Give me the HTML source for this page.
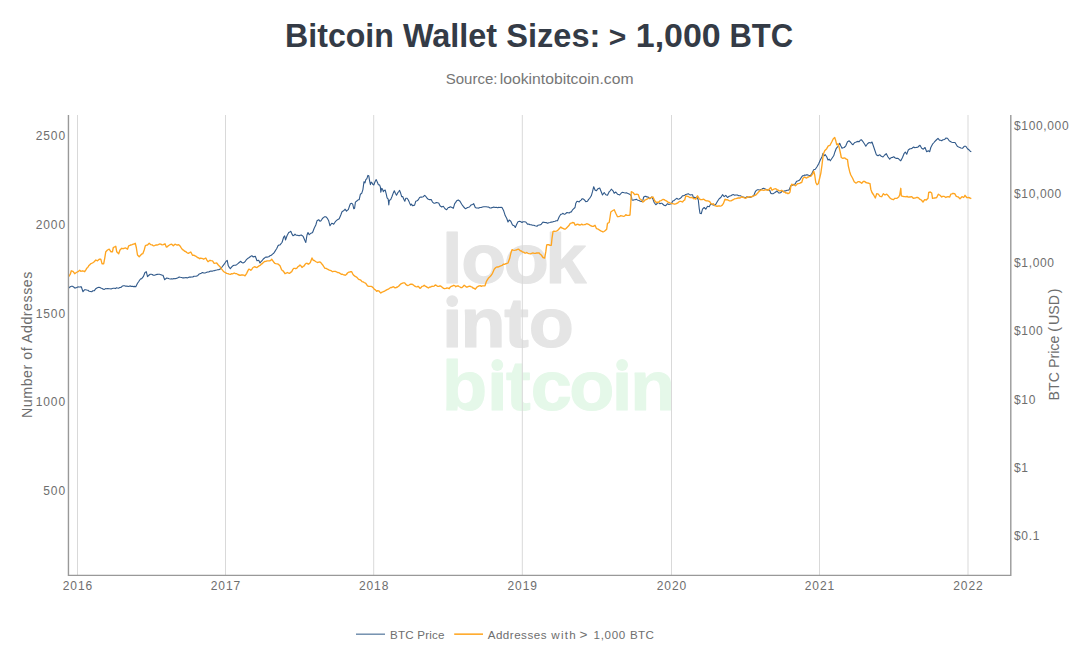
<!DOCTYPE html>
<html><head><meta charset="utf-8"><title>Bitcoin Wallet Sizes</title>
<style>
html,body{margin:0;padding:0;background:#fff;}
body{width:1080px;height:648px;overflow:hidden;font-family:"Liberation Sans",sans-serif;}
svg{display:block;}
text{font-family:"Liberation Sans",sans-serif;}
.tick{font-size:12px;letter-spacing:0.9px;fill:#6e6e6e;}
.axt{font-size:14.2px;letter-spacing:0.55px;fill:#6e6e6e;}
.leg{font-size:11.6px;letter-spacing:0.2px;fill:#6e6e6e;}
.wm{font-weight:bold;font-size:71px;}
</style></head><body>
<svg width="1080" height="648" viewBox="0 0 1080 648">
<rect width="1080" height="648" fill="#fff"/>
<g id="title" font-size="33px" font-weight="bold" fill="#343b46"><text transform="translate(285.11,46.75) scale(0.9730,1)">Bitcoin</text><text transform="translate(402.90,46.75) scale(0.9822,1)">Wallet</text><text transform="translate(506.31,46.75) scale(0.9863,1)">Sizes:</text><text x="608.64" y="46.7" font-size="30px">&gt;</text><text transform="translate(635.74,46.75) scale(1.0297,1)">1,000</text><text transform="translate(729.49,46.75) scale(0.9395,1)">BTC</text></g>
<g id="sub" font-size="15.3px" fill="#767676"><text transform="translate(445.66,84.1) scale(0.9822,1)">Source:</text><text transform="translate(499.67,84.1) scale(1.0289,1)">lookintobitcoin.com</text></g>
<g id="wm" class="wm" stroke-width="1.2" stroke-linejoin="round">
<text transform="translate(442.00,283.45) scale(1.04,1)" fill="#e5e5e5" stroke="#e5e5e5">l</text><text transform="translate(461.35,283.45) scale(1.04,1)" fill="#e5e5e5" stroke="#e5e5e5">o</text><text transform="translate(503.75,283.45) scale(1.04,1)" fill="#e5e5e5" stroke="#e5e5e5">o</text><text transform="translate(545.20,283.45) scale(1.04,1)" fill="#e5e5e5" stroke="#e5e5e5">k</text>
<text transform="translate(442.00,346.75) scale(1.04,1)" fill="#e5e5e5" stroke="#e5e5e5">ı</text><text transform="translate(460.45,346.75) scale(1.04,1)" fill="#e5e5e5" stroke="#e5e5e5">n</text><text transform="translate(504.35,346.75) scale(1.04,1)" fill="#e5e5e5" stroke="#e5e5e5">t</text><text transform="translate(528.75,346.75) scale(1.04,1)" fill="#e5e5e5" stroke="#e5e5e5">o</text>
<text transform="translate(441.95,410.20) scale(1.04,1)" fill="#e5f8e9" stroke="#e5f8e9">b</text><text transform="translate(487.05,410.20) scale(1.04,1)" fill="#e5f8e9" stroke="#e5f8e9">ı</text><text transform="translate(505.95,410.20) scale(1.04,1)" fill="#e5f8e9" stroke="#e5f8e9">t</text><text transform="translate(530.65,410.20) scale(1.04,1)" fill="#e5f8e9" stroke="#e5f8e9">c</text><text transform="translate(569.35,410.20) scale(1.04,1)" fill="#e5f8e9" stroke="#e5f8e9">o</text><text transform="translate(611.70,410.20) scale(1.04,1)" fill="#e5f8e9" stroke="#e5f8e9">ı</text><text transform="translate(630.15,410.20) scale(1.04,1)" fill="#e5f8e9" stroke="#e5f8e9">n</text>
<circle cx="452.2" cy="301.1" r="5.9" fill="#e5e5e5" stroke="none"/><circle cx="497.3" cy="365.0" r="5.9" fill="#e5f8e9" stroke="none"/><circle cx="622.1" cy="365.0" r="5.9" fill="#e5f8e9" stroke="none"/>
</g>
<g id="grid" stroke="#d9d9d9" stroke-width="1" >
<line x1="77.5" y1="115" x2="77.5" y2="575"/>
<line x1="225.5" y1="115" x2="225.5" y2="575"/>
<line x1="373.7" y1="115" x2="373.7" y2="575"/>
<line x1="522.3" y1="115" x2="522.3" y2="575"/>
<line x1="671.5" y1="115" x2="671.5" y2="575"/>
<line x1="819.5" y1="115" x2="819.5" y2="575"/>
<line x1="968.0" y1="115" x2="968.0" y2="575"/>
</g>
<path id="blue" d="M68.7,288.0 L70.3,286.7 L71.4,286.3 L72.5,286.3 L73.6,286.9 L74.7,288.0 L75.7,287.9 L76.7,287.5 L77.9,286.9 L79.2,287.0 L80.2,286.9 L81.3,286.7 L83.0,291.7 L84.7,289.7 L85.7,289.7 L86.7,290.0 L87.9,290.3 L89.2,291.3 L90.4,291.5 L91.7,291.7 L92.9,290.8 L94.2,290.8 L95.8,288.7 L96.9,288.0 L98.0,287.5 L98.9,287.3 L99.9,287.5 L100.8,288.0 L102.1,288.5 L103.3,289.2 L104.4,289.4 L105.6,288.6 L106.7,288.8 L107.8,288.5 L108.9,288.8 L110.0,288.7 L111.1,289.0 L112.2,288.5 L113.3,288.3 L114.4,288.2 L115.4,288.6 L116.5,287.7 L117.5,288.0 L118.6,288.2 L119.7,287.5 L120.8,287.5 L122.1,286.3 L123.3,285.8 L124.6,285.7 L125.8,286.3 L126.9,286.1 L128.1,286.5 L129.2,286.2 L130.3,285.9 L131.4,286.4 L132.5,286.3 L133.6,286.6 L134.7,286.4 L135.8,286.7 L137.5,283.3 L138.6,281.7 L139.7,280.0 L140.7,278.9 L141.7,278.7 L143.3,276.7 L145.0,272.5 L146.3,271.7 L147.5,276.7 L149.2,275.0 L150.2,274.2 L151.3,274.2 L152.3,274.5 L153.3,275.3 L154.6,275.2 L155.8,274.7 L157.1,274.4 L158.3,274.2 L159.6,274.3 L160.8,274.7 L161.9,275.1 L163.0,275.3 L164.7,279.7 L165.7,278.8 L166.7,278.0 L167.9,278.2 L169.2,278.7 L170.4,279.0 L171.7,278.8 L172.8,279.0 L173.9,278.5 L175.0,278.7 L176.2,278.4 L177.5,278.0 L179.2,277.0 L180.4,277.3 L181.7,277.5 L182.8,277.9 L183.9,277.9 L185.0,277.8 L186.1,277.5 L187.2,278.0 L188.3,277.5 L189.4,277.0 L190.6,277.1 L191.7,277.0 L192.8,277.0 L193.9,276.2 L195.0,276.3 L196.2,276.1 L197.5,275.8 L198.8,274.3 L200.0,273.7 L201.2,273.2 L202.5,272.5 L203.8,273.0 L205.0,273.0 L206.2,272.6 L207.5,272.0 L208.8,272.0 L210.0,271.3 L211.1,271.0 L212.2,271.2 L213.3,270.8 L214.4,270.6 L215.6,270.3 L216.7,270.0 L217.7,269.7 L218.7,269.8 L219.7,269.2 L220.7,268.7 L221.7,267.5 L222.9,265.8 L224.2,264.2 L225.8,261.7 L227.2,260.3 L228.3,265.8 L229.3,267.4 L230.3,268.7 L232.0,266.7 L233.1,265.6 L234.2,265.3 L235.4,265.2 L236.7,264.7 L237.9,263.7 L239.2,262.5 L240.8,261.3 L241.9,262.6 L243.0,263.0 L244.0,262.6 L245.0,261.7 L246.0,260.2 L247.0,259.2 L248.1,258.2 L249.2,257.5 L250.2,256.8 L251.3,255.8 L252.3,256.0 L253.3,257.0 L254.3,256.6 L255.3,256.3 L257.0,260.8 L258.7,260.3 L260.0,263.0 L261.0,261.6 L262.0,260.8 L263.1,259.2 L264.2,258.3 L265.2,257.3 L266.3,257.0 L267.5,257.1 L268.7,256.7 L270.0,255.7 L271.3,255.3 L272.5,254.1 L273.7,253.3 L274.8,251.6 L275.8,250.0 L276.9,248.2 L278.0,245.8 L279.0,245.0 L280.0,245.0 L281.0,243.7 L282.0,242.5 L283.7,237.0 L284.7,235.8 L285.5,240.0 L287.0,235.8 L288.7,232.5 L289.8,232.0 L290.8,231.3 L291.9,233.9 L293.0,235.8 L294.0,235.3 L295.0,234.2 L296.0,235.1 L297.0,235.3 L298.1,235.4 L299.2,235.8 L300.2,235.3 L301.3,235.0 L302.3,235.7 L303.3,236.7 L305.0,240.8 L305.8,242.5 L307.0,235.0 L308.0,232.5 L309.2,234.7 L310.8,233.3 L311.8,233.0 L312.8,232.0 L314.2,228.3 L315.8,225.0 L317.0,220.8 L318.7,219.7 L320.0,221.3 L321.0,220.7 L322.0,219.2 L323.3,217.6 L324.7,216.7 L325.7,216.8 L326.7,217.5 L327.7,218.9 L328.7,220.8 L330.0,225.8 L331.7,223.3 L332.7,223.5 L333.7,224.2 L335.3,221.7 L336.4,220.7 L337.5,219.7 L339.2,218.7 L340.8,215.0 L342.0,211.7 L343.1,211.1 L344.2,210.3 L345.0,209.2 L346.5,211.2 L347.4,210.2 L348.3,209.6 L349.6,205.8 L350.4,203.8 L351.7,203.3 L352.7,204.2 L353.8,208.8 L354.6,208.3 L355.4,202.1 L357.1,200.8 L358.1,199.8 L359.2,199.6 L360.4,194.2 L361.7,193.3 L362.9,189.6 L364.0,181.7 L365.0,182.9 L365.8,179.6 L366.8,178.8 L367.9,175.4 L368.8,175.8 L369.6,180.8 L370.4,184.6 L371.2,182.1 L372.1,182.9 L372.9,184.6 L373.8,185.0 L375.0,181.7 L376.2,179.6 L377.5,182.5 L378.3,184.6 L379.6,185.0 L380.4,187.1 L380.8,192.1 L381.7,188.3 L382.5,189.2 L383.3,191.7 L384.2,190.4 L385.2,190.0 L386.2,193.8 L387.1,197.9 L388.2,199.2 L388.8,205.0 L389.3,200.4 L390.7,199.6 L392.1,196.2 L393.3,192.9 L394.3,190.8 L395.4,193.3 L396.5,195.2 L397.7,192.9 L398.8,191.5 L399.6,190.4 L400.7,193.3 L401.7,196.7 L402.7,196.5 L403.8,199.2 L404.8,201.2 L405.8,198.3 L407.1,198.2 L408.3,200.0 L409.6,202.9 L410.7,205.2 L411.5,204.2 L412.7,205.8 L413.6,205.4 L414.6,205.2 L415.8,201.2 L417.1,200.7 L418.3,199.8 L419.6,197.5 L420.8,197.1 L422.1,197.1 L423.3,196.7 L424.6,195.4 L425.7,196.2 L427.1,198.3 L428.3,199.2 L429.6,199.6 L431.2,199.6 L432.5,202.1 L433.8,203.2 L434.8,203.3 L435.8,202.8 L436.7,202.5 L437.7,202.8 L438.7,203.0 L440.0,205.8 L441.7,207.0 L443.3,206.3 L445.0,208.7 L446.7,209.7 L448.3,207.5 L449.3,207.5 L450.3,206.7 L452.0,207.5 L453.3,208.3 L454.7,203.7 L455.7,202.4 L456.7,200.8 L458.3,200.0 L460.0,201.3 L461.7,204.2 L462.7,205.6 L463.7,207.0 L465.3,208.7 L466.4,208.2 L467.5,207.5 L468.6,207.2 L469.7,206.7 L470.7,205.3 L471.7,204.7 L472.7,204.5 L473.7,203.7 L475.3,207.5 L476.4,208.0 L477.5,208.0 L478.8,208.1 L480.0,207.5 L481.2,207.5 L482.5,207.0 L483.8,206.7 L485.0,206.7 L486.2,206.7 L487.5,207.0 L488.8,207.1 L490.0,208.0 L491.2,207.9 L492.5,207.5 L493.8,207.1 L495.0,207.5 L496.2,207.3 L497.5,207.8 L498.8,207.4 L500.0,207.5 L501.0,207.2 L502.0,207.5 L503.7,210.8 L505.3,215.8 L506.7,218.3 L508.0,222.0 L509.2,220.0 L510.8,221.3 L512.5,225.0 L514.2,225.8 L515.3,227.5 L516.7,224.2 L518.0,221.7 L519.7,221.3 L520.8,221.8 L522.0,222.5 L523.1,221.7 L524.2,221.7 L525.8,222.0 L527.5,224.2 L528.8,224.0 L530.0,224.7 L531.2,224.7 L532.5,225.3 L533.8,225.2 L535.0,225.8 L536.0,226.0 L537.0,226.3 L538.1,225.2 L539.2,225.0 L540.2,224.9 L541.3,224.2 L543.0,222.0 L544.0,222.4 L545.0,222.5 L546.2,222.6 L547.5,223.3 L548.8,222.7 L550.0,222.5 L551.2,222.1 L552.5,222.0 L553.8,221.5 L555.0,221.3 L556.2,220.7 L557.5,220.8 L559.2,216.7 L560.8,214.2 L561.9,214.1 L563.0,213.3 L564.0,214.2 L565.0,214.2 L566.0,213.3 L567.0,212.5 L568.1,212.7 L569.2,213.0 L570.2,212.1 L571.3,212.0 L572.3,210.2 L573.3,209.2 L575.0,207.5 L575.8,203.3 L577.0,201.3 L578.1,201.5 L579.2,202.0 L580.1,200.7 L581.1,200.1 L582.0,198.7 L583.1,198.9 L584.2,199.7 L585.8,201.7 L587.5,201.3 L588.6,199.4 L589.7,198.3 L591.3,195.8 L592.5,191.7 L593.7,186.7 L595.0,190.0 L596.3,190.8 L598.0,188.7 L599.7,188.0 L600.8,190.8 L602.5,195.0 L604.2,192.5 L605.8,194.7 L607.5,195.3 L609.2,191.7 L610.2,190.8 L611.3,189.2 L613.0,190.8 L614.2,193.3 L615.8,192.0 L617.5,194.2 L618.6,194.6 L619.7,195.0 L621.3,193.0 L622.3,192.4 L623.3,192.5 L624.3,192.8 L625.3,193.0 L626.4,192.7 L627.5,193.3 L628.6,193.8 L629.7,194.2 L631.3,195.8 L632.0,200.0 L633.1,200.3 L634.2,199.7 L635.2,199.7 L636.3,199.2 L637.3,199.9 L638.3,200.3 L639.3,200.6 L640.3,201.3 L641.4,201.4 L642.5,201.7 L643.7,197.0 L644.8,196.4 L645.8,196.3 L646.9,196.9 L648.0,197.0 L649.7,198.7 L650.7,197.9 L651.7,197.0 L653.0,199.2 L654.2,202.5 L655.8,204.7 L656.9,203.8 L658.0,202.5 L659.0,202.9 L660.0,203.7 L661.0,203.3 L662.0,203.3 L663.7,205.0 L665.3,205.8 L666.4,205.0 L667.5,203.7 L668.6,204.4 L669.7,204.2 L671.3,203.7 L673.0,200.8 L674.0,200.6 L675.0,199.7 L676.7,198.3 L677.7,199.0 L678.7,199.2 L680.3,198.3 L681.4,197.4 L682.5,195.8 L683.6,195.8 L684.7,195.3 L685.7,194.5 L686.7,194.2 L688.3,193.7 L689.3,194.4 L690.3,195.0 L691.4,194.7 L692.5,194.7 L693.3,197.5 L694.3,197.3 L695.3,198.0 L697.0,197.0 L698.3,200.0 L699.2,208.3 L700.0,213.3 L701.3,213.7 L702.5,209.2 L704.2,207.5 L705.8,209.2 L707.5,206.3 L709.2,206.7 L710.8,203.7 L712.5,204.7 L714.2,205.3 L715.8,204.2 L717.5,201.3 L719.2,198.7 L720.8,197.5 L722.5,194.7 L724.2,196.7 L725.8,195.3 L727.5,197.5 L729.2,196.3 L730.8,195.8 L732.5,194.7 L733.6,194.6 L734.7,195.3 L735.7,195.0 L736.7,195.0 L737.7,195.1 L738.7,195.7 L739.7,195.8 L740.8,195.8 L741.9,196.8 L743.0,197.0 L744.0,197.2 L745.0,197.5 L746.0,197.5 L747.0,196.7 L748.1,197.3 L749.2,197.0 L750.4,197.2 L751.7,196.7 L752.7,196.1 L753.7,195.8 L755.3,191.7 L756.4,190.4 L757.5,189.7 L758.6,189.8 L759.7,190.3 L760.7,189.5 L761.7,189.2 L762.7,188.5 L763.7,188.3 L764.8,188.9 L765.8,189.2 L766.9,189.9 L768.0,190.0 L769.7,190.3 L770.8,193.3 L771.9,193.8 L773.0,193.7 L774.0,193.1 L775.0,192.5 L776.0,191.8 L777.0,190.8 L778.7,193.0 L779.8,193.0 L780.8,192.5 L781.9,191.5 L783.0,191.3 L784.0,191.2 L785.0,190.8 L786.0,190.9 L787.0,190.3 L788.1,190.3 L789.2,189.7 L790.8,185.8 L791.9,185.5 L793.0,184.7 L794.0,184.4 L795.0,184.2 L796.3,181.7 L797.3,181.0 L798.3,180.8 L799.3,180.3 L800.3,179.2 L801.4,177.3 L802.5,175.8 L803.6,175.7 L804.7,175.0 L805.7,175.3 L806.7,174.7 L807.7,174.9 L808.7,175.3 L810.3,175.8 L812.0,173.3 L813.7,169.7 L815.3,169.2 L817.0,166.7 L818.7,163.7 L820.3,160.0 L822.0,156.7 L823.0,153.3 L824.2,155.8 L825.3,154.7 L826.7,156.7 L828.0,160.0 L829.2,159.2 L830.3,160.8 L832.0,158.3 L833.7,155.8 L835.0,151.7 L836.3,148.3 L838.0,146.3 L839.7,143.3 L840.8,145.8 L842.0,148.3 L843.1,147.8 L844.2,147.5 L845.8,145.8 L847.5,141.7 L849.2,140.8 L850.8,142.5 L851.9,144.0 L853.0,144.7 L854.7,142.5 L855.7,142.3 L856.7,141.7 L857.9,141.4 L859.2,141.7 L860.2,140.3 L861.3,139.7 L863.0,141.7 L864.7,144.2 L865.8,146.3 L867.5,143.7 L869.2,142.5 L870.8,143.0 L872.0,142.0 L873.3,145.8 L875.0,150.8 L876.3,154.7 L878.0,155.8 L879.7,154.7 L881.3,156.3 L883.0,157.0 L884.7,155.0 L886.3,153.7 L888.0,157.0 L889.7,159.2 L890.7,158.0 L891.7,157.5 L892.7,157.4 L893.7,156.7 L895.3,158.0 L896.4,158.4 L897.5,158.3 L898.6,158.8 L899.7,160.0 L900.8,160.8 L902.5,157.5 L904.2,153.3 L905.3,152.0 L906.7,154.2 L908.3,150.0 L910.0,148.7 L911.0,148.8 L912.0,148.3 L913.7,147.0 L914.8,147.7 L915.8,147.5 L916.9,147.4 L918.0,147.0 L919.0,146.0 L920.0,145.3 L921.7,148.3 L923.3,149.2 L925.0,147.5 L926.7,151.7 L928.3,150.8 L929.7,151.7 L930.8,147.5 L932.5,144.2 L933.6,143.0 L934.7,141.7 L936.3,140.0 L938.0,138.3 L939.7,140.3 L940.7,140.2 L941.7,140.8 L942.7,139.8 L943.7,139.7 L944.8,139.3 L945.8,138.0 L947.5,138.3 L949.2,140.8 L950.8,141.7 L951.9,142.2 L953.0,142.5 L954.0,142.5 L955.0,142.5 L956.7,145.3 L957.7,146.6 L958.7,147.0 L959.8,147.4 L960.8,148.0 L962.5,148.3 L964.2,146.3 L965.8,146.3 L967.5,148.7 L969.2,150.0 L970.2,151.2 L971.3,151.7" fill="none" stroke="#30598a" stroke-width="1.1" stroke-linejoin="round"/>
<path id="orange" d="M68.7,276.7 L70.3,274.2 L71.3,270.8 L73.0,271.3 L74.7,273.7 L76.3,272.5 L78.0,271.7 L79.7,270.3 L80.8,271.3 L82.5,270.8 L83.6,271.2 L84.7,271.7 L85.7,270.1 L86.7,268.3 L87.7,267.5 L88.7,265.8 L89.8,264.7 L90.8,263.7 L92.5,263.0 L94.2,261.7 L95.8,260.0 L97.5,260.8 L99.2,259.2 L100.8,259.2 L102.0,263.7 L103.7,263.7 L104.7,258.3 L105.8,251.7 L107.5,250.0 L109.2,249.2 L110.8,251.7 L112.5,251.7 L113.3,247.5 L114.6,246.9 L115.8,246.3 L116.7,251.7 L117.7,252.7 L118.7,253.7 L120.0,250.0 L121.7,248.3 L123.3,248.7 L124.6,248.1 L125.8,248.0 L127.5,249.2 L128.7,245.8 L129.8,245.4 L130.8,245.0 L132.1,244.7 L133.3,244.2 L134.3,244.0 L135.3,243.3 L136.3,247.5 L137.5,255.0 L139.2,256.7 L140.8,255.0 L141.8,254.0 L142.8,253.7 L144.2,250.0 L145.3,245.8 L146.4,245.2 L147.5,245.0 L149.2,243.3 L150.8,244.7 L152.1,244.9 L153.3,245.8 L154.6,245.7 L155.8,245.0 L157.1,245.0 L158.3,244.7 L159.6,244.0 L160.8,244.2 L162.1,244.9 L163.3,244.7 L165.0,243.8 L166.3,247.0 L167.3,246.8 L168.3,245.8 L170.0,244.7 L171.7,244.2 L173.3,245.8 L175.0,244.2 L176.7,245.0 L177.7,245.0 L178.7,244.7 L180.3,246.3 L181.4,248.1 L182.5,249.7 L183.6,250.2 L184.7,251.3 L185.7,251.5 L186.7,252.5 L188.3,253.3 L189.6,252.7 L190.8,252.0 L192.5,255.3 L193.8,255.2 L195.0,255.8 L196.2,256.4 L197.5,257.5 L198.6,257.9 L199.7,258.7 L200.7,258.1 L201.7,258.3 L202.7,258.7 L203.7,259.2 L204.8,258.5 L205.8,258.0 L206.9,260.1 L208.0,261.7 L209.0,261.0 L210.0,260.3 L211.2,260.7 L212.5,260.8 L214.2,263.3 L215.4,263.2 L216.7,263.0 L218.3,265.0 L220.0,266.7 L221.7,269.2 L222.9,270.7 L224.2,272.0 L225.4,272.6 L226.7,273.3 L227.9,273.6 L229.2,274.2 L230.4,274.4 L231.7,273.7 L232.9,273.8 L234.2,273.0 L235.4,273.6 L236.7,273.7 L237.9,274.5 L239.2,275.0 L240.0,275.3 L241.2,275.0 L242.5,275.0 L243.8,275.2 L245.0,275.8 L246.7,273.3 L247.7,271.1 L248.7,269.2 L249.8,269.4 L250.8,270.3 L251.9,269.2 L253.0,267.5 L254.0,267.0 L255.0,266.7 L256.0,267.4 L257.0,267.5 L258.1,266.6 L259.2,265.8 L260.2,265.4 L261.3,264.2 L262.3,263.6 L263.3,262.5 L264.6,261.5 L265.8,261.3 L267.1,260.8 L268.3,260.8 L269.6,260.9 L270.8,260.3 L271.7,259.2 L272.7,260.6 L273.7,262.0 L274.8,263.3 L275.8,263.7 L277.1,263.8 L278.3,264.2 L280.0,265.8 L281.7,270.0 L282.7,270.5 L283.7,271.7 L285.0,273.7 L286.2,273.2 L287.5,272.5 L288.6,273.2 L289.7,273.3 L290.7,272.3 L291.7,271.7 L292.7,269.6 L293.7,268.3 L294.8,268.3 L295.8,268.7 L296.9,268.1 L298.0,266.7 L299.0,266.1 L300.0,265.0 L301.0,265.9 L302.0,267.5 L303.1,266.4 L304.2,265.8 L305.2,264.2 L306.3,263.3 L307.3,263.4 L308.3,264.2 L309.3,263.6 L310.3,262.5 L312.0,258.0 L313.3,260.3 L314.3,260.5 L315.3,261.3 L316.4,262.0 L317.5,262.5 L318.8,262.2 L320.0,262.0 L321.2,263.1 L322.5,264.7 L323.8,266.7 L325.0,268.3 L326.2,268.4 L327.5,269.2 L328.8,269.9 L330.0,270.3 L331.2,270.7 L332.5,271.7 L333.8,271.4 L335.0,271.3 L336.2,271.7 L337.5,272.5 L338.8,272.7 L340.0,273.3 L341.2,274.2 L342.5,274.2 L343.4,274.8 L344.4,274.8 L345.3,275.3 L346.4,274.5 L347.5,273.0 L348.6,272.2 L349.7,272.0 L350.7,271.7 L351.7,271.7 L352.7,273.8 L353.7,275.3 L354.8,276.1 L355.8,276.7 L356.9,277.3 L358.0,278.7 L359.0,279.6 L360.0,279.7 L361.0,280.4 L362.0,281.7 L363.1,281.9 L364.2,282.5 L365.8,283.3 L367.5,285.8 L368.8,286.3 L370.0,286.3 L371.0,286.3 L372.0,286.7 L373.1,287.7 L374.2,289.2 L375.4,289.9 L376.7,291.3 L377.7,290.7 L378.7,290.8 L379.8,292.0 L380.8,293.0 L382.1,292.1 L383.3,291.7 L384.6,291.1 L385.8,290.3 L387.1,289.6 L388.3,289.2 L389.6,288.3 L390.8,287.5 L391.9,287.5 L393.0,286.7 L394.0,287.2 L395.0,287.8 L396.2,287.5 L397.5,287.0 L398.6,286.3 L399.7,285.0 L400.8,283.9 L402.0,283.3 L403.3,282.8 L404.7,282.8 L405.8,284.4 L407.0,285.3 L408.1,285.5 L409.2,285.0 L409.7,284.7 L410.7,284.2 L411.7,284.2 L412.7,284.5 L413.7,285.3 L414.8,286.2 L415.8,286.7 L416.9,286.9 L418.0,286.3 L419.0,287.1 L420.0,288.3 L421.0,287.7 L422.0,286.3 L423.1,286.2 L424.2,285.3 L425.2,286.1 L426.3,286.7 L427.3,287.3 L428.3,288.0 L429.6,287.1 L430.8,287.0 L431.9,286.2 L433.0,286.3 L434.2,286.1 L435.3,285.0 L436.4,285.4 L437.5,286.3 L438.8,286.3 L440.0,285.8 L441.2,286.4 L442.5,287.5 L443.6,288.4 L444.7,288.7 L445.8,288.4 L447.0,288.0 L448.1,288.1 L449.2,288.7 L450.2,287.2 L451.3,286.3 L452.5,286.0 L453.7,285.3 L454.8,285.6 L455.8,286.7 L456.9,286.0 L458.0,285.8 L459.0,286.5 L460.0,287.0 L461.0,287.6 L462.0,287.5 L463.1,286.5 L464.2,285.3 L465.2,286.0 L466.3,287.0 L467.5,287.0 L468.7,286.3 L469.8,286.2 L470.8,286.7 L471.9,286.9 L473.0,288.0 L474.2,288.4 L475.3,289.2 L477.0,287.0 L478.1,286.4 L479.2,285.8 L480.2,285.7 L481.3,286.3 L482.3,285.8 L483.3,285.8 L485.0,285.8 L486.3,281.7 L487.3,279.9 L488.3,278.3 L489.6,277.1 L490.8,275.8 L492.5,273.3 L494.2,269.2 L495.8,267.5 L497.1,266.9 L498.3,267.0 L499.6,266.3 L500.8,265.8 L502.1,265.4 L503.3,264.2 L504.6,264.4 L505.8,263.7 L506.9,263.5 L508.0,263.0 L509.7,258.3 L510.8,253.3 L512.0,249.7 L513.1,250.2 L514.2,250.3 L515.2,250.2 L516.3,250.0 L517.5,249.3 L518.7,249.2 L520.3,250.8 L521.4,251.0 L522.5,252.0 L523.6,252.1 L524.7,253.0 L525.7,253.1 L526.7,252.5 L527.9,253.3 L529.2,253.7 L530.4,253.9 L531.7,253.3 L532.9,252.9 L534.2,253.3 L535.4,253.3 L536.7,253.0 L537.9,253.0 L539.2,253.0 L540.2,254.2 L541.3,255.0 L543.0,257.5 L544.7,258.0 L545.8,251.7 L546.7,245.0 L547.7,244.7 L548.7,244.7 L550.0,245.4 L551.3,245.3 L552.0,238.3 L553.0,231.7 L554.0,231.1 L555.0,231.3 L556.0,231.1 L557.0,230.8 L558.1,230.0 L559.2,228.7 L560.8,227.0 L561.9,228.0 L563.0,228.3 L564.0,229.0 L565.0,229.2 L566.0,228.5 L567.0,227.5 L568.7,225.8 L570.3,223.3 L571.4,223.2 L572.5,222.5 L574.2,223.0 L575.0,225.0 L576.0,225.0 L577.0,224.2 L578.3,224.5 L579.7,225.0 L580.7,224.8 L581.7,224.2 L582.9,224.8 L584.2,224.7 L585.4,224.5 L586.7,223.7 L587.9,224.1 L589.2,224.7 L590.2,225.5 L591.3,225.8 L592.3,226.4 L593.3,226.3 L595.0,225.3 L596.3,228.3 L597.3,228.8 L598.3,229.2 L599.6,230.1 L600.8,230.8 L601.9,231.3 L603.0,232.0 L604.0,231.5 L605.0,230.8 L606.7,229.2 L607.5,223.3 L609.2,222.5 L610.0,217.5 L610.8,212.0 L612.5,210.8 L614.2,209.7 L615.8,213.3 L617.5,216.7 L618.6,216.6 L619.7,216.3 L620.7,215.7 L621.7,215.8 L622.7,216.2 L623.7,216.3 L624.8,215.9 L625.8,214.7 L626.9,215.3 L628.0,215.3 L629.0,215.4 L630.0,215.0 L630.8,203.3 L631.3,191.7 L633.0,192.5 L634.7,194.7 L635.7,194.3 L636.7,194.2 L638.3,194.7 L639.7,198.7 L641.3,199.7 L643.0,202.0 L644.0,201.2 L645.0,200.0 L646.0,199.7 L647.0,199.2 L648.1,198.5 L649.2,198.0 L650.2,198.1 L651.3,197.5 L653.0,197.0 L654.7,200.8 L656.3,202.5 L657.3,202.1 L658.3,202.5 L660.0,200.8 L661.0,200.6 L662.0,200.0 L663.1,199.4 L664.2,199.7 L665.2,200.3 L666.3,200.8 L667.3,201.6 L668.3,202.5 L669.3,202.5 L670.3,203.0 L671.4,203.5 L672.5,203.7 L673.6,203.9 L674.7,204.2 L675.7,203.9 L676.7,203.3 L677.7,203.0 L678.7,202.0 L679.8,201.4 L680.8,201.3 L682.5,202.0 L683.6,200.6 L684.7,200.0 L685.8,195.8 L687.5,196.3 L688.6,196.7 L689.7,197.5 L690.7,197.7 L691.7,197.5 L692.7,197.8 L693.7,198.7 L694.8,198.6 L695.8,199.2 L697.5,195.8 L699.2,198.7 L700.2,199.5 L701.3,199.7 L702.3,199.6 L703.3,199.2 L704.3,199.7 L705.3,200.3 L706.4,200.9 L707.5,200.8 L708.6,201.1 L709.7,201.7 L711.3,204.2 L712.3,204.1 L713.3,203.7 L715.0,205.8 L716.0,205.8 L717.0,206.3 L718.1,206.0 L719.2,205.8 L720.2,206.1 L721.3,205.8 L722.3,205.1 L723.3,203.7 L725.0,199.2 L726.0,199.8 L727.0,199.7 L728.1,200.1 L729.2,200.8 L730.2,200.9 L731.3,200.8 L732.3,200.1 L733.3,199.7 L734.6,198.8 L735.8,198.7 L736.9,198.3 L738.0,198.0 L739.7,198.0 L740.7,197.6 L741.7,196.7 L742.7,197.4 L743.7,197.5 L745.3,198.3 L746.4,197.9 L747.5,197.0 L748.6,197.2 L749.7,196.7 L750.7,196.6 L751.7,197.0 L752.7,196.1 L753.7,195.8 L754.8,195.4 L755.8,195.0 L757.5,193.3 L758.6,191.9 L759.7,190.8 L760.7,190.2 L761.7,190.0 L762.7,190.1 L763.7,190.3 L764.8,190.1 L765.8,189.7 L767.1,190.0 L768.3,190.3 L770.0,188.3 L770.8,187.5 L772.0,190.3 L773.7,189.2 L774.8,188.8 L775.8,188.7 L776.9,189.6 L778.0,190.0 L779.0,190.8 L780.0,190.8 L781.7,190.3 L782.7,191.1 L783.7,192.0 L784.8,192.1 L785.8,193.0 L786.9,192.9 L788.0,193.7 L789.0,193.2 L790.0,192.0 L790.8,186.7 L791.7,184.2 L793.3,185.0 L794.3,185.0 L795.3,185.8 L796.4,184.9 L797.5,183.7 L798.6,183.6 L799.7,183.3 L800.7,182.7 L801.7,182.5 L803.0,178.3 L804.7,177.0 L805.7,177.8 L806.7,178.0 L807.7,177.1 L808.7,177.0 L809.8,176.3 L810.8,176.3 L812.5,174.2 L813.7,171.3 L814.7,175.0 L815.8,182.5 L817.0,184.7 L818.3,183.7 L819.7,178.0 L820.8,173.3 L822.0,165.0 L823.3,154.2 L824.7,150.8 L825.7,149.7 L826.7,148.7 L828.3,145.8 L830.0,145.3 L831.7,142.0 L833.3,138.7 L834.7,137.5 L835.8,140.8 L836.7,144.7 L838.0,143.7 L839.2,147.5 L840.3,152.5 L841.3,157.5 L842.5,158.3 L844.2,158.0 L845.2,158.2 L846.3,159.2 L847.5,159.7 L848.3,165.8 L849.7,171.7 L850.8,175.0 L852.5,178.0 L854.2,181.7 L855.8,183.0 L856.9,182.6 L858.0,181.7 L859.0,181.6 L860.0,182.0 L861.7,183.3 L862.7,182.0 L863.7,181.3 L864.8,181.5 L865.8,182.5 L866.9,182.9 L868.0,183.0 L869.0,183.3 L870.0,183.7 L870.8,189.2 L872.0,192.5 L873.7,195.0 L875.3,198.0 L876.7,193.7 L878.3,194.2 L880.0,196.3 L881.7,196.7 L883.3,193.7 L885.0,195.0 L886.7,194.2 L888.3,195.8 L890.0,198.0 L891.7,199.2 L893.3,199.7 L895.0,198.3 L896.0,198.4 L897.0,198.3 L898.7,197.0 L899.7,195.0 L900.8,188.3 L901.3,195.8 L903.0,196.3 L904.0,196.6 L905.0,196.7 L906.0,196.8 L907.0,196.3 L908.1,197.1 L909.2,197.0 L910.2,197.0 L911.3,196.7 L912.3,197.2 L913.3,198.3 L914.3,198.1 L915.3,198.0 L916.4,197.5 L917.5,197.5 L918.6,197.9 L919.7,199.2 L921.3,200.0 L923.0,202.0 L924.7,199.7 L926.3,200.0 L928.0,198.3 L928.7,192.5 L930.3,192.0 L931.7,193.0 L932.5,198.3 L933.6,198.1 L934.7,198.0 L935.7,197.9 L936.7,197.5 L938.3,194.2 L940.0,195.3 L941.7,197.0 L942.7,196.4 L943.7,196.3 L944.8,196.7 L945.8,197.5 L946.9,196.9 L948.0,196.7 L949.7,197.0 L950.8,194.2 L951.9,193.9 L953.0,193.3 L954.7,193.7 L956.3,196.3 L957.3,196.7 L958.3,197.0 L960.0,198.7 L961.0,197.8 L962.0,196.7 L963.7,197.5 L965.0,195.3 L966.7,197.5 L967.7,197.7 L968.7,197.5 L970.0,198.0 L971.3,198.7" fill="none" stroke="#ffa520" stroke-width="1.35" stroke-linejoin="round"/>
<g id="axes" stroke="#999999" stroke-width="1.4" fill="none">
<path d="M68.45,115 V575.35 H1010.8 V115"/>
</g>
<text class="tick" x="77.9" y="589.8" text-anchor="middle">2016</text>
<text class="tick" x="225.9" y="589.8" text-anchor="middle">2017</text>
<text class="tick" x="374.1" y="589.8" text-anchor="middle">2018</text>
<text class="tick" x="522.7" y="589.8" text-anchor="middle">2019</text>
<text class="tick" x="671.9" y="589.8" text-anchor="middle">2020</text>
<text class="tick" x="819.9" y="589.8" text-anchor="middle">2021</text>
<text class="tick" x="968.4" y="589.8" text-anchor="middle">2022</text>
<text class="tick" x="66" y="140.0" text-anchor="end">2500</text>
<text class="tick" x="66" y="228.8" text-anchor="end">2000</text>
<text class="tick" x="66" y="317.6" text-anchor="end">1500</text>
<text class="tick" x="66" y="406.3" text-anchor="end">1000</text>
<text class="tick" x="66" y="495.1" text-anchor="end">500</text>
<text class="tick" style="letter-spacing:0.65px" x="1014" y="130.0">$100,000</text>
<text class="tick" style="letter-spacing:0.65px" x="1014" y="198.4">$10,000</text>
<text class="tick" style="letter-spacing:0.65px" x="1014" y="266.8">$1,000</text>
<text class="tick" style="letter-spacing:0.65px" x="1014" y="335.2">$100</text>
<text class="tick" style="letter-spacing:0.65px" x="1014" y="403.6">$10</text>
<text class="tick" style="letter-spacing:0.65px" x="1014" y="472.1">$1</text>
<text class="tick" style="letter-spacing:0.65px" x="1014" y="540.3">$0.1</text>
<text id="ylab" class="axt" transform="translate(32,344.5) rotate(-90)" text-anchor="middle">Number of Addresses</text>
<text id="yrlab" class="axt" style="letter-spacing:0.03px" transform="translate(1059.3,344.5) rotate(-90)" text-anchor="middle">BTC Price <tspan>(</tspan><tspan dx="1.8">USD</tspan><tspan dx="1.8">)</tspan></text>
<line x1="356" y1="634.15" x2="385" y2="634.15" stroke="#2d5986" stroke-width="1"/>
<text id="leg1" class="leg" x="390" y="638.7">BTC Price</text>
<line x1="454.2" y1="634.15" x2="483" y2="634.15" stroke="#ffa31a" stroke-width="1.5"/>
<text id="leg2" class="leg" y="638.7" style="letter-spacing:0.7px"><tspan x="487.7" style="letter-spacing:0.5px">Addresses</tspan><tspan x="551.3" style="letter-spacing:1.3px">with</tspan><tspan x="579.6" dy="0.6" style="font-size:13.5px">&gt;</tspan><tspan x="593.5" dy="-0.6">1,000</tspan><tspan x="630" style="letter-spacing:0.3px">BTC</tspan></text>
</svg>
</body></html>
